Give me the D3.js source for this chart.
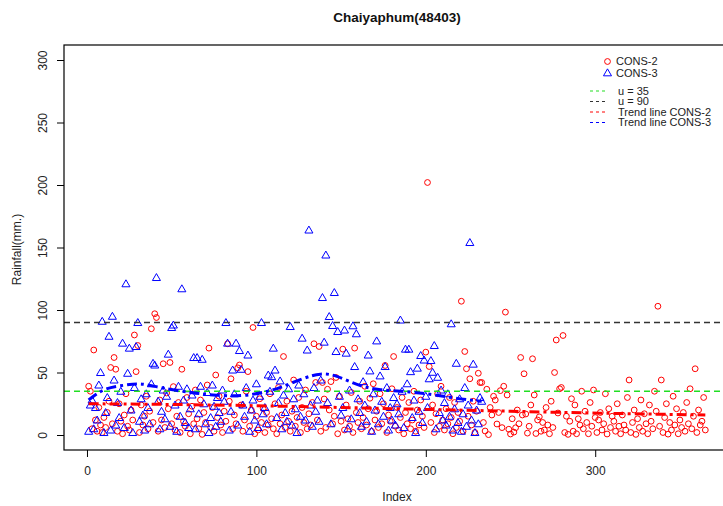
<!DOCTYPE html>
<html><head><meta charset="utf-8">
<script src="https://cdn.jsdelivr.net/npm/d3@7"></script>
<style>body{margin:0;background:#fff;} svg{display:block;font-family:"Liberation Sans",Arial,sans-serif;}</style>
</head><body>
<script>
// ---- data ----
const cons2 = [
39,35,5,68,12,3,22,8,2,14,
6,18,27,54,9,62,52.6,3,25,11,
1,16,33,7,4,20,12,80,50.7,71.6,
2,24,8,15,31,5,19,85,10,97,
94,3,28,12,57,6,33.6,21,58,9,
38.7,4,15,26,2,52.6,11,7,30,17,
1,23,9,36,13,5,28,0.5,18,10,
40,69.5,6,22,3,48,14,31,8,2,
19,11,73,27,45,5,16,9,53.7,56,
24,3,12,35,50.7,7,20,86,1,15,
4,29,10,21,2,18,8,33,13,5,
25,1,38,9,16,62.8,6,27,11,3,
19,44,7,14,30,2,22,10,36,5,
17,8,26,73,42,12,70.8,3,42,28.8,
6,36.6,20,42.7,9,15,46,1,31,11,
68.7,4,24,13,7,34,2,69.5,18,10,
27,5,14,39,8,21,29.4,3,41,12,
19,6,33,9,25,55.6,2,16,11,37,
62.8,7,22,4,14,30,1,18,9,26,
5,12,35,3,20,8,28,15,6,66.3,
202,54.8,10,24,2,17,33,7,39,12,
4,21,9,30,14,1,26,6,18,11,
107,3,66.8,53,15,45,8,27,2,19,
49.4,42,42,10,3.2,36.6,0.3,22,16,31,
28,8.8,18,35.5,5.9,39,98.3,32,4.6,0.8,
13,2.3,5.8,20,9,62,16,49,16.8,1.5,
7,24,61,32,1.2,12,14.5,3,10,4,
22,8,1,27,6,50,76,17.6,37,38,
79.6,2,15,0.5,11,29,3,24,1,13,
8,35,5,19,10,1,26,7,36,14,
2,12,18,4,9,33,0.8,21,6,15,
11,3,25,7,1,16,8,4,30,44,
2,10,20,0.5,13,6,28,3,17,9,
1,24,11,5,35,19,103,7,44,2,
14,25,0.7,10,4,31,8,21,1,12,
6,18,3,26,9,37,5,15,53,2,
20,8,11,30,4
];
const cons3 = [
3,24,28,5,22,12,40,50,91,2,
18,30,79,4,95,44,8,26,14,35,
73.5,6,121,49.4,69.5,20,2,38,70.8,90,
11,29,16,4,33,22,9,41,57.4,56,
126,27,5,19,36,13,31,64.7,7,86,
88,24,3,39,15,117,28,10,37,6,
21,32,62,5,62,17,39,60.6,25,9,
34,2,14,40,23,7,30,18,11,36,
27,90,73.5,4,19,52,33,73.5,8,67.6,
52.6,24,15,38,64,3,20,28,12,41,
6,31,90,17,22,9,48,35,46.7,69.5,
52,14,26,43.3,5,32,18,11,37,86.8,
8,29,21,2,40,15,77.5,33,12,68,
164,24,7,38,19,28,11,44,110,74.3,
144,26,94.8,9,87.6,114,66.8,82.8,31,16,
22,84,65.5,5,36,13,87.4,54.8,81,29,
18,7,42.7,24,11,64,51.3,3,33,20,
75.3,9,47.3,27,15,54.8,38,4,22,12,
30,8,25,17,92,35,6,68.7,41,68.7,
50.7,14,28,2,53.5,19,63.6,10,60,31,
22,45,59.6,50.2,71.6,5,46.2,18,36,12,
26,8,33,15,89,4,21,57.4,10,29,
3,17,38,7,24,154,12,56.7,2,20,
9,30,27
];
const trend2Idx = [1, 50, 100, 150, 200, 250, 300, 365];
const trend2Val = [25, 24.5, 23.5, 22, 20.5, 19, 17.5, 16];
const trend3Idx = [1, 10, 23, 32, 43, 63, 73, 92, 106, 114, 128, 138, 147, 159, 171, 191, 206, 221, 233];
const trend3Val = [28, 37.7, 40, 41.6, 37.7, 33.6, 32, 30.7, 34.7, 37.7, 45.7, 49.6, 48, 40, 36, 34.7, 32, 28.6, 27];
const refLines = [35, 90];
const xTicks = [0, 100, 200, 300];
const yTicks = [0, 50, 100, 150, 200, 250, 300];
const legendNames = ["CONS-2", "CONS-3", "u = 35", "u = 90", "Trend line CONS-2", "Trend line CONS-3"];

// ---- drawing ----
const W = 723, H = 506;
const L = 64, R = 730, T = 45, B = 450;
const svg = d3.select("body").append("svg").attr("width", W).attr("height", H);
const x = d3.scaleLinear().domain([-13.56, 379.56]).range([L, R]);
const y = d3.scaleLinear().domain([-12, 312]).range([B, T]);

svg.append("defs").append("clipPath").attr("id", "pc")
  .append("rect").attr("x", L).attr("y", T).attr("width", R - L).attr("height", B - T);
const plot = svg.append("g").attr("clip-path", "url(#pc)");

// red circles
plot.append("g").selectAll("circle").data(cons2).join("circle")
  .attr("cx", (d, i) => x(i + 1)).attr("cy", d => y(d)).attr("r", 2.9)
  .attr("fill", "none").attr("stroke", "#ff0000").attr("stroke-width", 1);

// blue triangles
const tri = d3.symbol().type(d3.symbolTriangle).size(28);
plot.append("g").selectAll("path").data(cons3).join("path")
  .attr("d", tri)
  .attr("transform", (d, i) => `translate(${x(i + 1)},${y(d) + 0.7})`)
  .attr("fill", "none").attr("stroke", "#0000ff").attr("stroke-width", 1);

// reference lines
const refColors = ["#22dd22", "#333333"];
refLines.forEach((v, k) => {
  plot.append("line").attr("x1", L).attr("x2", R).attr("y1", y(v)).attr("y2", y(v))
    .attr("stroke", refColors[k]).attr("stroke-width", 1.6).attr("stroke-dasharray", "6,4");
});

// trend lines
const line = d3.line().x(d => x(d[0])).y(d => y(d[1])).curve(d3.curveBasis);
plot.append("path").datum(trend2Idx.map((v, i) => [v, trend2Val[i]]))
  .attr("d", line).attr("fill", "none").attr("stroke", "#ff0000").attr("stroke-width", 3)
  .attr("stroke-dasharray", "10,4,3,4");
plot.append("path").datum(trend3Idx.map((v, i) => [v, trend3Val[i]]))
  .attr("d", line).attr("fill", "none").attr("stroke", "#0000ff").attr("stroke-width", 3)
  .attr("stroke-dasharray", "10,4,3,4");

// frame
svg.append("rect").attr("x", L).attr("y", T).attr("width", R - L).attr("height", B - T)
  .attr("fill", "none").attr("stroke", "#000").attr("stroke-width", 1.2);

// axes
const xa = svg.append("g").attr("transform", `translate(0,${B})`)
  .call(d3.axisBottom(x).tickValues(xTicks).tickSize(7).tickPadding(9).tickFormat(d3.format("d")));
xa.select(".domain").remove();
xa.selectAll("text").attr("font-size", 12).attr("fill", "#222").attr("font-family", "Liberation Sans, Arial, sans-serif");
xa.selectAll("line").attr("stroke", "#000");

const ya = svg.append("g").attr("transform", `translate(${L},0)`)
  .call(d3.axisLeft(y).tickValues(yTicks).tickSize(7).tickFormat(d3.format("d")));
ya.select(".domain").remove();
ya.selectAll("line").attr("stroke", "#000");
ya.selectAll("text").remove();
ya.selectAll(".tick").append("text")
  .attr("transform", "translate(-21,0) rotate(-90)")
  .attr("text-anchor", "middle").attr("dy", "0.35em")
  .attr("font-size", 12).attr("fill", "#222")
  .text(d => d);

// labels
svg.append("text").attr("x", (L + R) / 2).attr("y", 22).attr("text-anchor", "middle")
  .attr("font-size", 13.5).attr("font-weight", "bold").attr("fill", "#111").text("Chaiyaphum(48403)");
svg.append("text").attr("x", (L + R) / 2).attr("y", 501).attr("text-anchor", "middle")
  .attr("font-size", 12).attr("fill", "#222").text("Index");
svg.append("text").attr("transform", `translate(21,${(T + B) / 2 + 2}) rotate(-90)`)
  .attr("text-anchor", "middle").attr("font-size", 12).attr("fill", "#222").text("Rainfall(mm.)");

// legend
const lg = svg.append("g").attr("font-size", 11).attr("fill", "#222");
lg.append("circle").attr("cx", 607.5).attr("cy", 61.5).attr("r", 2.9)
  .attr("fill", "none").attr("stroke", "#ff0000");
lg.append("path").attr("d", tri).attr("transform", "translate(607.5,73.5)")
  .attr("fill", "none").attr("stroke", "#0000ff");
lg.append("text").attr("x", 616).attr("y", 61.5).attr("dy", "0.35em").text(legendNames[0]);
lg.append("text").attr("x", 616).attr("y", 73).attr("dy", "0.35em").text(legendNames[1]);
const lcols = ["#22dd22", "#333333", "#ff0000", "#0000ff"];
[91, 101.5, 112, 122.5].forEach((yy, k) => {
  lg.append("line").attr("x1", 590).attr("x2", 606).attr("y1", yy).attr("y2", yy)
    .attr("stroke", lcols[k]).attr("stroke-width", 1).attr("stroke-dasharray", "3,3");
  lg.append("text").attr("x", 618).attr("y", yy).attr("dy", "0.35em").text(legendNames[k + 2]);
});
</script>
</body></html>
